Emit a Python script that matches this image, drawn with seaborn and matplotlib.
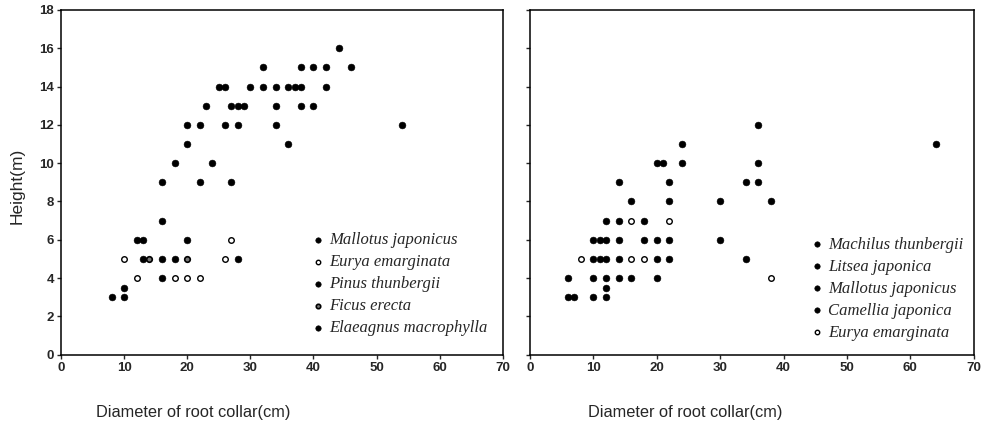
import pandas as pd
import matplotlib
matplotlib.use("Agg")
import matplotlib.pyplot as plt
import seaborn as sns

# --- left panel (diameter cm, height m) ---
l_mallotus_d = [8, 10, 10, 16, 13, 16, 18, 12, 13, 20, 16]
l_mallotus_h = [3, 3, 3.5, 4, 5, 5, 5, 6, 6, 6, 7]
l_eurya_d = [12, 18, 20, 22, 10, 26, 27]
l_eurya_h = [4, 4, 4, 4, 5, 5, 6]
l_pinus_d = [16, 22, 27, 18, 24, 20, 36, 20, 22, 26, 28, 34, 54,
             23, 27, 28, 29, 34, 38, 40,
             25, 26, 30, 32, 34, 36, 37, 38, 42,
             32, 38, 40, 42, 46, 44]
l_pinus_h = [9, 9, 9, 10, 10, 11, 11, 12, 12, 12, 12, 12, 12,
             13, 13, 13, 13, 13, 13, 13,
             14, 14, 14, 14, 14, 14, 14, 14, 14,
             15, 15, 15, 15, 15, 16]
l_ficus_d = [14, 20]
l_ficus_h = [5, 5]
l_elaeagnus_d = [28]
l_elaeagnus_h = [5]

# --- right panel ---
r_machilus_d = [36, 24, 64, 20, 21, 24, 36, 14, 22, 34, 36, 16, 22, 30, 38]
r_machilus_h = [12, 11, 11, 10, 10, 10, 10, 9, 9, 9, 9, 8, 8, 8, 8]
r_litsea_d = [12, 14, 18, 10, 11, 12, 14, 18, 20, 22, 30]
r_litsea_h = [7, 7, 7, 6, 6, 6, 6, 6, 6, 6, 6]
r_mallotus_d = [6, 7, 10, 12, 12, 6, 10, 12, 14, 16, 20, 10, 11, 12, 14, 20]
r_mallotus_h = [3, 3, 3, 3, 3.5, 4, 4, 4, 4, 4, 4, 5, 5, 5, 5, 5]
r_camellia_d = [22, 34]
r_camellia_h = [5, 5]
r_eurya_d = [8, 16, 18, 16, 22, 38]
r_eurya_h = [5, 5, 5, 7, 7, 4]

filled = dict(marker="o", facecolor="black", edgecolor="black")
hollow = dict(marker="o", facecolor="white", edgecolor="black", linewidth=1.0)
ringed = dict(marker="o", facecolor="#777777", edgecolor="black", linewidth=1.2)

left_series = [
    ("Mallotus japonicus", l_mallotus_d, l_mallotus_h, filled, 24),
    ("Eurya emarginata", l_eurya_d, l_eurya_h, hollow, 16),
    ("Pinus thunbergii", l_pinus_d, l_pinus_h, filled, 24),
    ("Ficus erecta", l_ficus_d, l_ficus_h, ringed, 16),
    ("Elaeagnus macrophylla", l_elaeagnus_d, l_elaeagnus_h, filled, 24),
]
right_series = [
    ("Machilus thunbergii", r_machilus_d, r_machilus_h, filled, 24),
    ("Litsea japonica", r_litsea_d, r_litsea_h, filled, 24),
    ("Mallotus japonicus", r_mallotus_d, r_mallotus_h, filled, 24),
    ("Camellia japonica", r_camellia_d, r_camellia_h, filled, 24),
    ("Eurya emarginata", r_eurya_d, r_eurya_h, hollow, 16),
]

sns.set_style("ticks")
plt.rcParams["font.family"] = ["Liberation Sans", "DejaVu Sans"]

fig = plt.figure(figsize=(9.84, 4.28), dpi=100)
ax_l = fig.add_axes([0.062, 0.171, 0.449, 0.806])
ax_r = fig.add_axes([0.5386, 0.171, 0.451, 0.806])

# (axes, series, x-label position, legend anchor)
for ax, series, lab_x, leg_xy in [(ax_l, left_series, 0.30, (0.555, 0.375)),
                                  (ax_r, right_series, 0.35, (0.62, 0.362))]:
    for name, d, h, style, size in series:
        df = pd.DataFrame({"d": d, "h": h})
        sns.scatterplot(data=df, x="d", y="h", ax=ax, s=size, label=name, **style)
    ax.set_xlim(0, 70)
    ax.set_ylim(0, 18)
    ax.set_xticks(range(0, 71, 10))
    ax.set_yticks(range(0, 19, 2))
    for sp in ax.spines.values():
        sp.set_visible(True)
        sp.set_linewidth(1.1)
        sp.set_color("black")
    ax.tick_params(direction="out", length=3, width=1, labelsize=9.5, pad=2)
    for t in ax.get_xticklabels() + ax.get_yticklabels():
        t.set_fontweight("bold")
    ax.set_xlabel("Diameter of root collar(cm)", fontsize=11.8)
    ax.xaxis.set_label_coords(lab_x, -0.145)
    ax.set_ylabel("")
    ax.legend(loc="upper left", bbox_to_anchor=leg_xy, frameon=False,
              handlelength=0.6, handletextpad=0.4, labelspacing=0.36,
              borderaxespad=0, markerscale=0.8,
              prop={"family": "Liberation Serif", "style": "italic", "size": 12})

ax_r.set_yticklabels([])
ax_l.set_ylabel("Height(m)", fontsize=12.5)
ax_l.yaxis.set_label_coords(-0.082, 0.49)

fig.savefig("out.png", dpi=100)
